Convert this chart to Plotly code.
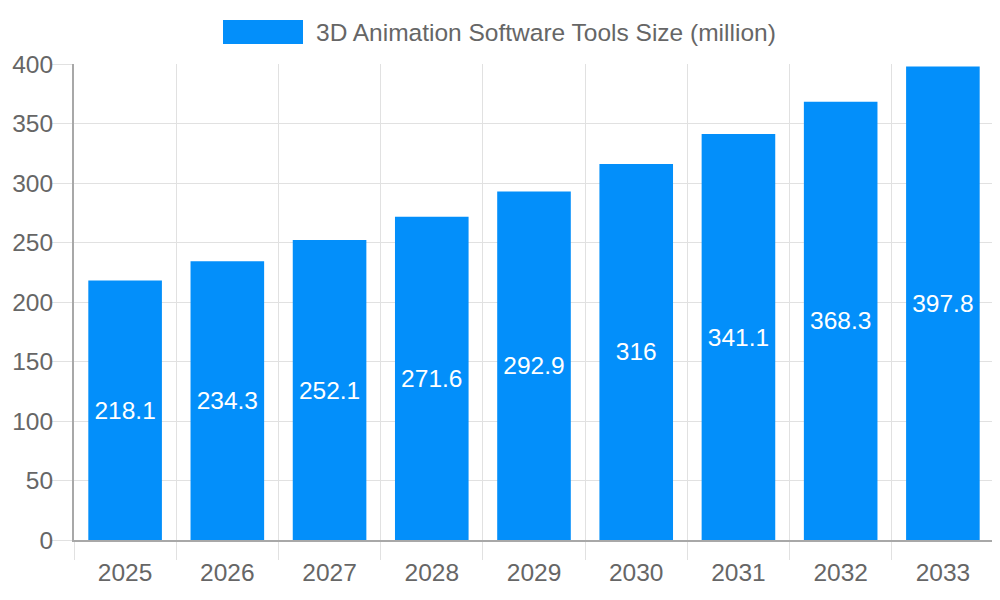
import plotly.graph_objects as go

years = ["2025", "2026", "2027", "2028", "2029", "2030", "2031", "2032", "2033"]
sizes = [218.1, 234.3, 252.1, 271.6, 292.9, 316, 341.1, 368.3, 397.8]
series_name = "3D Animation Software Tools Size (million)"

bar_color = "#038FFA"
grid_color = "#E1E1E1"
axis_color = "#A8A8A8"
text_color = "#666666"
font_family = "Liberation Sans, Arial, sans-serif"

# page has an 8px body margin, so the figure is 8px smaller and shifted
fig_w, fig_h = 992, 592
plot_l, plot_r, plot_t, plot_b = 74 - 8, 994 - 8, 64 - 8, 540 - 8
pw, ph = plot_r - plot_l, plot_b - plot_t


def px(x):
    return (x - 8 - plot_l) / pw


def py(y):
    return (plot_b - (y - 8)) / ph


fig = go.Figure(go.Bar(
    x=years,
    y=sizes,
    name=series_name,
    marker=dict(color=bar_color, line=dict(width=0)),
    width=0.72,
    text=[f"{v:g}" for v in sizes],
    textposition="inside",
    insidetextanchor="middle",
    textangle=0,
    textfont=dict(color="white", size=24.5, family=font_family),
))

# legend drawn by hand so the colour box matches the big swatch
fig.add_shape(type="rect", xref="paper", yref="paper",
              x0=px(223), x1=px(303), y0=py(44), y1=py(20),
              fillcolor=bar_color, line=dict(width=0))
fig.add_annotation(xref="paper", yref="paper",
                   x=px(314), y=py(32),
                   xanchor="left", yanchor="middle", showarrow=False,
                   text=series_name,
                   font=dict(size=24.5, color=text_color))

fig.update_layout(
    width=fig_w, height=fig_h,
    margin=dict(l=plot_l, r=fig_w - plot_r, t=plot_t, b=fig_h - plot_b),
    paper_bgcolor="white", plot_bgcolor="white",
    showlegend=False,
    font=dict(family=font_family, size=24.5, color=text_color),
    xaxis=dict(
        type="category",
        tickson="boundaries",
        ticks="outside", ticklen=18, tickcolor=grid_color, tickwidth=1,
        ticklabelstandoff=10,
        showgrid=True, gridcolor=grid_color, gridwidth=1,
        showline=True, linecolor=axis_color, linewidth=2,
        tickfont=dict(size=24.5, color=text_color),
        automargin=False,
    ),
    yaxis=dict(
        range=[0, 400], dtick=50,
        ticks="outside", ticklen=20, tickcolor=grid_color, tickwidth=1,
        ticklabelstandoff=-6,
        showgrid=True, gridcolor=grid_color, gridwidth=1,
        showline=True, linecolor=axis_color, linewidth=2,
        zeroline=False,
        tickfont=dict(size=24.5, color=text_color),
        automargin=False,
    ),
)

fig.write_html("out.html")
